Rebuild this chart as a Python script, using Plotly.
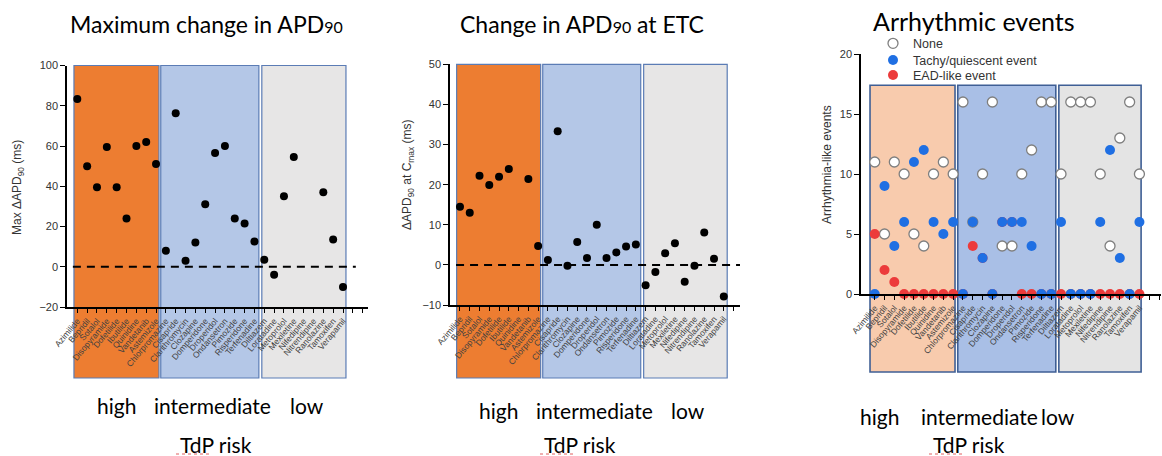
import plotly.graph_objects as go

# ---------------- data ----------------
drugs = ["Azimilide", "Bepridil", "Sotalol", "Disopyramide", "Dofetilide", "Ibutilide",
         "Quinidine", "Vandetanib", "Astemizole",
         "Chlorpromazine", "Cisapride", "Clarithromycin", "Clozapine", "Domperidone",
         "Droperidol", "Ondansetron", "Pimozide", "Risperidone", "Terfenadine",
         "Diltiazem", "Loratadine", "Metoprolol", "Mexiletine", "Nifedipine",
         "Nitrendipine", "Ranolazine", "Tamoxifen", "Verapamil"]
risk_groups = ["high", "intermediate", "low"]

# Max change in APD90 (ms)
max_dapd90 = [83.3, 50, 39.5, 59.5, 39.5, 24, 60, 62, 51,
              8, 76.3, 3, 12, 31, 56.5, 60, 24, 21.5, 12.5,
              3.5, -4, 35, 54.5, None, None, 37, 13.5, -10]

# Change in APD90 at ETC (ms)
dapd90_etc = [14.5, 13, 22.2, 19.9, 22, 23.9, None, 21.4, 4.7,
              1.2, 33.3, -0.2, 5.7, 1.7, 10, 1.7, 3.1, 4.6, 5.1,
              -5.1, -1.8, 2.9, 5.4, -4.2, -0.2, 8.1, 1.5, -7.9]

# Arrhythmia-like events
ev_none = [11, 5, 11, 10, 5, 4, 10, 11, 10,
           16, 6, 10, 16, 4, 4, 10, 12, 16, 16,
           10, 16, 16, 16, 10, 4, 13, 16, 10]
ev_tachy = [0, 9, 4, 6, 11, 12, 6, 5, 6,
            0, 6, 3, 0, 6, 6, 6, 4, 0, 0,
            6, 0, 0, 0, 6, 12, 3, 0, 6]
ev_ead = [5, 2, 1, 0, 0, 0, 0, 0, 0,
          0, 4, 3, 0, 6, 6, 0, 0, 0, 0,
          0, 0, 0, 0, 0, 0, 0, 0, 0]

# ---------------- helpers ----------------
W, H = 1162, 456
def px(x):
    return x / W
def py(y):
    return 1 - y / H

idx = list(range(len(drugs)))
tickvals = list(range(30))
ticktext = drugs + ["", ""]

TICKFONT = "Liberation Sans, Arial, sans-serif"
TITLEFONT = "Lato, Open Sans, sans-serif"

fig = go.Figure()

fig.add_trace(go.Scatter(x=idx, y=max_dapd90, mode="markers", xaxis="x", yaxis="y",
                         marker=dict(color="black", size=8), showlegend=False,
                         cliponaxis=False))
fig.add_trace(go.Scatter(x=idx, y=dapd90_etc, mode="markers", xaxis="x2", yaxis="y2",
                         marker=dict(color="black", size=8), showlegend=False,
                         cliponaxis=False))
fig.add_trace(go.Scatter(x=idx, y=ev_none, mode="markers", xaxis="x3", yaxis="y3",
                         name="None", legend="legend",
                         marker=dict(color="white", size=10,
                                     line=dict(color="#7f7f7f", width=1.3)),
                         cliponaxis=False))
fig.add_trace(go.Scatter(x=idx, y=ev_ead, mode="markers", xaxis="x3", yaxis="y3",
                         name="EAD-like event", legend="legend3",
                         marker=dict(color="#ec3b3b", size=10, line=dict(width=0)),
                         cliponaxis=False))
fig.add_trace(go.Scatter(x=idx, y=ev_tachy, mode="markers", xaxis="x3", yaxis="y3",
                         name="Tachy/quiescent event", legend="legend2",
                         marker=dict(color="#1f6fe3", size=10, line=dict(width=0)),
                         cliponaxis=False))

def xax(dom, rng, nt, anchor):
    return dict(domain=dom, range=rng, anchor=anchor, automargin=False,
                tickmode="array", tickvals=tickvals[:nt], ticktext=ticktext[:nt],
                tickangle=-50, ticks="outside", ticklen=4, tickwidth=1, tickcolor="black",
                showline=True, linecolor="black", linewidth=1.5,
                showgrid=False, zeroline=False,
                tickfont=dict(family=TICKFONT, size=8.5, color="#404040"))

def yax(dom, rng, dt, anchor):
    return dict(domain=dom, range=rng, anchor=anchor, dtick=dt, tick0=0, automargin=False,
                ticks="outside", ticklen=5, tickwidth=1, tickcolor="black",
                showline=True, linecolor="black", linewidth=1.5,
                showgrid=False, zeroline=False,
                tickfont=dict(family=TICKFONT, size=11, color="#333333"))

def leg(ytop):
    return dict(x=px(873), y=py(ytop), xanchor="left", yanchor="top",
                bgcolor="rgba(0,0,0,0)", borderwidth=0,
                font=dict(family=TICKFONT, size=12.5, color="#333333"),
                itemsizing="trace")

fig.update_layout(
    template="none",
    width=W, height=H, margin=dict(l=0, r=0, t=0, b=0, autoexpand=False),
    paper_bgcolor="white", plot_bgcolor="rgba(0,0,0,0)",
    xaxis=xax([px(67), px(368)], [-1.047, 29.54], 30, "y"),
    yaxis=yax([py(307), py(65.5)], [-20, 100], 20, "x"),
    xaxis2=xax([px(450), px(740)], [-1.02, 28.66], 29, "y2"),
    yaxis2=yax([py(305), py(64.3)], [-10, 50], 10, "x2"),
    xaxis3=xax([px(861), px(1161)], [-1.4, 29.2], 30, "y3"),
    yaxis3=yax([py(294), py(54)], [0, 20], 5, "x3"),
    legend=leg(28.7),
    legend2=leg(45.3),
    legend3=leg(60.3),
    showlegend=True,
)

# background risk-group boxes
def box(xref, x0, x1, ytop, ybot, fill, line, lw):
    fig.add_shape(type="rect", xref=xref, yref="paper", x0=x0, x1=x1,
                  y0=py(ybot), y1=py(ytop), fillcolor=fill,
                  line=dict(color=line, width=lw), layer="below")

edge = "#5b7cb5"
box("x", -0.34, 8.3, 65.5, 378, "#ed7d31", edge, 1.2)
box("x", 8.48, 18.45, 65.5, 378, "#b4c7e7", edge, 1.2)
box("x", 18.75, 27.3, 65.5, 378, "#e7e6e6", edge, 1.2)

box("x2", -0.34, 8.26, 64.3, 378, "#ed7d31", edge, 1.2)
box("x2", 8.47, 18.5, 64.3, 378, "#b4c7e7", edge, 1.2)
box("x2", 18.8, 27.35, 64.3, 378, "#e7e6e6", edge, 1.2)

edge3 = "#3f5f95"
box("x3", -0.48, 8.19, 85.3, 372, "#f8cbad", edge3, 1.6)
box("x3", 8.47, 18.47, 85.3, 372, "#a9bfe6", edge3, 1.6)
box("x3", 18.78, 27.17, 85.3, 372, "#e4e4e4", edge3, 1.6)

# zero reference lines
fig.add_shape(type="line", xref="x", yref="y", x0=-0.45, x1=28.3, y0=0, y1=0,
              line=dict(color="black", width=2, dash="8px,6px"), layer="below")
fig.add_shape(type="line", xref="x2", yref="y2", x0=-0.4, x1=29.0, y0=0, y1=0,
              line=dict(color="black", width=2, dash="8px,6px"), layer="below")

# titles
def ann(x, y, text, size, family=TITLEFONT, color="black", angle=0):
    fig.add_annotation(xref="paper", yref="paper", x=px(x), y=py(y), text=text,
                       showarrow=False, xanchor="center", yanchor="middle",
                       textangle=angle, font=dict(family=family, size=size, color=color))

sub = "<span style='font-size:16px'>90</span>"
ann(206, 24, "Maximum change in APD" + sub, 23)
ann(582, 24, "Change in APD" + sub + " at ETC", 23)
ann(974, 21, "Arrhythmic events", 25)

# y-axis titles
ann(18, 188, "Max ΔAPD<sub>90</sub> (ms)", 12, TICKFONT, "#333333", -90)
ann(408, 175, "ΔAPD<sub>90</sub> at C<sub>max</sub> (ms)", 12, TICKFONT, "#333333", -90)
ann(827, 165, "Arrhythmia-like events", 12, TICKFONT, "#333333", -90)

# risk group labels
for (xs, yg) in [((116, 213, 307), 405), ((498, 594, 688), 410), ((879, 979, 1058), 416)]:
    for xg, g in zip(xs, risk_groups):
        ann(xg, yg, g, 21)
for xc in (216, 580, 969):
    ann(xc, 444, "TdP risk", 21)
    fig.add_shape(type="line", xref="paper", yref="paper",
                  x0=px(xc - 40), x1=px(xc - 6), y0=py(454), y1=py(454),
                  line=dict(color="#e06060", width=1, dash="dot"))

fig.write_html("out.html")
